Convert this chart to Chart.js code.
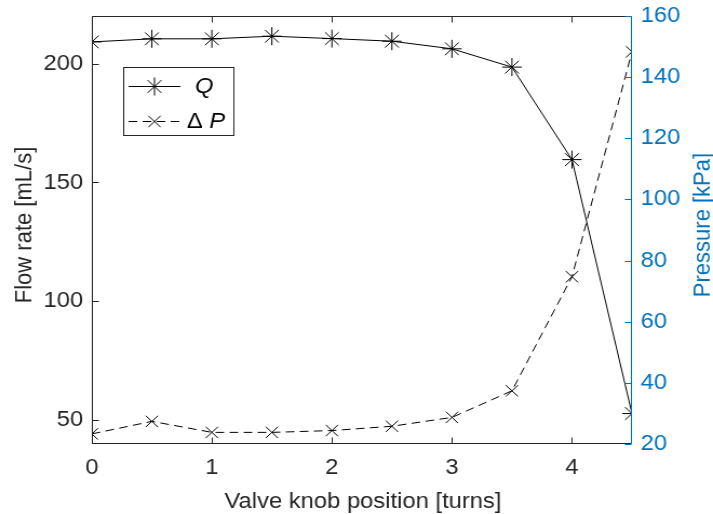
<!DOCTYPE html>
<html>
<head>
<meta charset="utf-8">
<script src="https://cdn.jsdelivr.net/npm/chart.js@4/dist/chart.umd.min.js"></script>
<style>
  html, body { margin: 0; padding: 0; background: #fff; overflow: hidden; }
  #wrap { position: absolute; left: 0; top: 0; width: 660px; height: 514px;
          transform: scaleX(1.0803); transform-origin: 0 0; }
</style>
</head>
<body>
<div id="wrap"><canvas id="c" width="660" height="514"></canvas></div>
<script>
// Valve knob sweep: flow rate (left axis) and pressure drop (right axis)
const knobTurns = [0, 0.5, 1, 1.5, 2, 2.5, 3, 3.5, 4, 4.5];
const flowRate = [209.1, 210.4, 210.4, 211.5, 210.5, 209.4, 206.2, 198.5, 159.6, 52.8];
const pressureDrop = [23.3, 27.4, 23.8, 23.8, 24.4, 25.8, 28.7, 37.4, 74.7, 148.3];

const turnTicks = [0, 1, 2, 3, 4];
const flowTicks = [50, 100, 150, 200];
const pressureTicks = [20, 40, 60, 80, 100, 120, 140, 160];

const xTitle = 'Valve knob position [turns]';
const flowTitle = 'Flow rate [mL/s]';
const pressureTitle = 'Pressure [kPa]';

const AXIS = '#262626';
const BLUE = '#0072BD';
const FONT = '"Liberation Sans", Arial, Helvetica, sans-serif';
const FSIZE = 22;
const TICK_LEN = 6;

const asTicks = vals => vals.map(v => ({ value: v }));

// Box, inward ticks, axis titles and legend, drawn on top of the chart
const frame = {
  id: 'frame',
  afterDraw(chart) {
    const { ctx, chartArea: a, scales } = chart;
    const L = Math.round(a.left) + 0.5, R = Math.round(a.right) - 0.5;
    const T = Math.round(a.top) + 0.5, B = Math.round(a.bottom) - 0.5;
    ctx.save();
    ctx.lineWidth = 1;

    // left, bottom, top edges
    ctx.strokeStyle = AXIS;
    ctx.beginPath();
    ctx.moveTo(L, T); ctx.lineTo(R, T);
    ctx.moveTo(L, T); ctx.lineTo(L, B); ctx.lineTo(R, B);
    // x ticks, bottom and top
    turnTicks.forEach(v => {
      const px = Math.round(scales.x.getPixelForValue(v)) + 0.5;
      ctx.moveTo(px, B); ctx.lineTo(px, B - TICK_LEN);
      ctx.moveTo(px, T); ctx.lineTo(px, T + TICK_LEN);
    });
    // left y ticks
    flowTicks.forEach(v => {
      const py = Math.round(scales.yFlow.getPixelForValue(v)) + 0.5;
      ctx.moveTo(L, py); ctx.lineTo(L + TICK_LEN, py);
    });
    ctx.stroke();

    // right axis in blue
    ctx.strokeStyle = BLUE;
    ctx.beginPath();
    ctx.moveTo(R, T); ctx.lineTo(R, B);
    pressureTicks.forEach(v => {
      const py = Math.round(scales.yPress.getPixelForValue(v)) + 0.5;
      ctx.moveTo(R, py); ctx.lineTo(R - TICK_LEN, py);
    });
    ctx.stroke();

    // axis titles
    ctx.font = `${FSIZE}px ${FONT}`;
    ctx.textAlign = 'center';
    ctx.fillStyle = AXIS;
    ctx.textBaseline = 'alphabetic';
    ctx.fillText(xTitle, (a.left + a.right) / 2 + 1, 508);

    ctx.textBaseline = 'middle';
    const midY = 225;
    ctx.save();
    ctx.translate(23, midY);
    ctx.rotate(-Math.PI / 2);
    ctx.fillText(flowTitle, 0, 0);
    ctx.restore();

    ctx.fillStyle = BLUE;
    ctx.save();
    ctx.translate(651, midY);
    ctx.rotate(-Math.PI / 2);
    ctx.fillText(pressureTitle, 0, 0);
    ctx.restore();

    // legend
    const bx = 114.5, by = 67.5, bw = 102, bh = 68;
    ctx.fillStyle = '#fff';
    ctx.fillRect(bx, by, bw, bh);
    ctx.strokeStyle = AXIS;
    ctx.strokeRect(bx, by, bw, bh);

    const rows = [86, 121];
    chart.data.datasets.forEach((ds, i) => {
      const y = rows[i] + 0.5;
      ctx.strokeStyle = ds.borderColor;
      ctx.lineWidth = ds.borderWidth;
      ctx.setLineDash(ds.borderDash || []);
      ctx.beginPath();
      ctx.moveTo(119, y); ctx.lineTo(167, y);
      ctx.stroke();
      ctx.setLineDash([]);
      ctx.lineWidth = ds.pointBorderWidth;
      Chart.helpers.drawPoint(ctx, {
        pointStyle: ds.pointStyle, radius: ds.pointRadius,
        rotation: 0, borderWidth: ds.pointBorderWidth
      }, 143, y);
    });

    ctx.fillStyle = '#000';
    ctx.textAlign = 'left';
    ctx.textBaseline = 'middle';
    ctx.font = `italic ${FSIZE}px ${FONT}`;
    ctx.fillText(chart.data.datasets[0].label, 180.5, rows[0] + 1);
    const [delta, sym] = chart.data.datasets[1].label.split(' ');
    ctx.font = `${FSIZE}px ${FONT}`;
    ctx.fillText(delta, 173, rows[1] + 1);
    const off = ctx.measureText(delta + ' ').width;
    ctx.font = `italic ${FSIZE}px ${FONT}`;
    ctx.fillText(sym, 173 + off, rows[1] + 1);

    ctx.restore();
  }
};

const tickFont = { family: FONT, size: FSIZE };
// tight line height on the vertical axes keeps the plot top at the layout padding
const yTickFont = { family: FONT, size: FSIZE, lineHeight: 0.6 };

new Chart(document.getElementById('c'), {
  type: 'line',
  data: {
    datasets: [
      {
        label: 'Q',
        data: knobTurns.map((x, i) => ({ x, y: flowRate[i] })),
        yAxisID: 'yFlow',
        borderColor: '#000',
        borderWidth: 1,
        tension: 0,
        fill: false,
        pointStyle: 'star',
        pointRadius: 9,
        pointBorderColor: '#000',
        pointBackgroundColor: '#000',
        pointBorderWidth: 1
      },
      {
        label: 'Δ P',
        data: knobTurns.map((x, i) => ({ x, y: pressureDrop[i] })),
        yAxisID: 'yPress',
        borderColor: '#000',
        borderWidth: 1,
        borderDash: [8, 5],
        tension: 0,
        fill: false,
        pointStyle: 'crossRot',
        pointRadius: 8,
        pointBorderColor: '#000',
        pointBackgroundColor: '#000',
        pointBorderWidth: 1
      }
    ]
  },
  options: {
    responsive: false,
    animation: false,
    devicePixelRatio: 1,
    layout: { padding: { top: 16, left: 0, right: 0, bottom: 0 } },
    plugins: { legend: { display: false }, tooltip: { enabled: false } },
    scales: {
      x: {
        type: 'linear', position: 'bottom', min: 0, max: 4.5,
        afterBuildTicks: s => { s.ticks = asTicks(turnTicks); },
        afterFit: s => { s.height = 70; },
        grid: { display: false, drawTicks: false },
        border: { display: false },
        ticks: { padding: 11, color: AXIS, font: tickFont, maxRotation: 0 }
      },
      yFlow: {
        type: 'linear', position: 'left', min: 40, max: 220,
        afterBuildTicks: s => { s.ticks = asTicks(flowTicks); },
        afterFit: s => { s.width = 85; },
        grid: { display: false, drawTicks: false },
        border: { display: false },
        ticks: { padding: 8, color: AXIS, font: yTickFont }
      },
      yPress: {
        type: 'linear', position: 'right', min: 20, max: 160,
        afterBuildTicks: s => { s.ticks = asTicks(pressureTicks); },
        afterFit: s => { s.width = 75; },
        grid: { display: false, drawTicks: false },
        border: { display: false },
        ticks: { padding: 8, color: BLUE, font: yTickFont }
      }
    }
  },
  plugins: [frame]
});
</script>
</body>
</html>
